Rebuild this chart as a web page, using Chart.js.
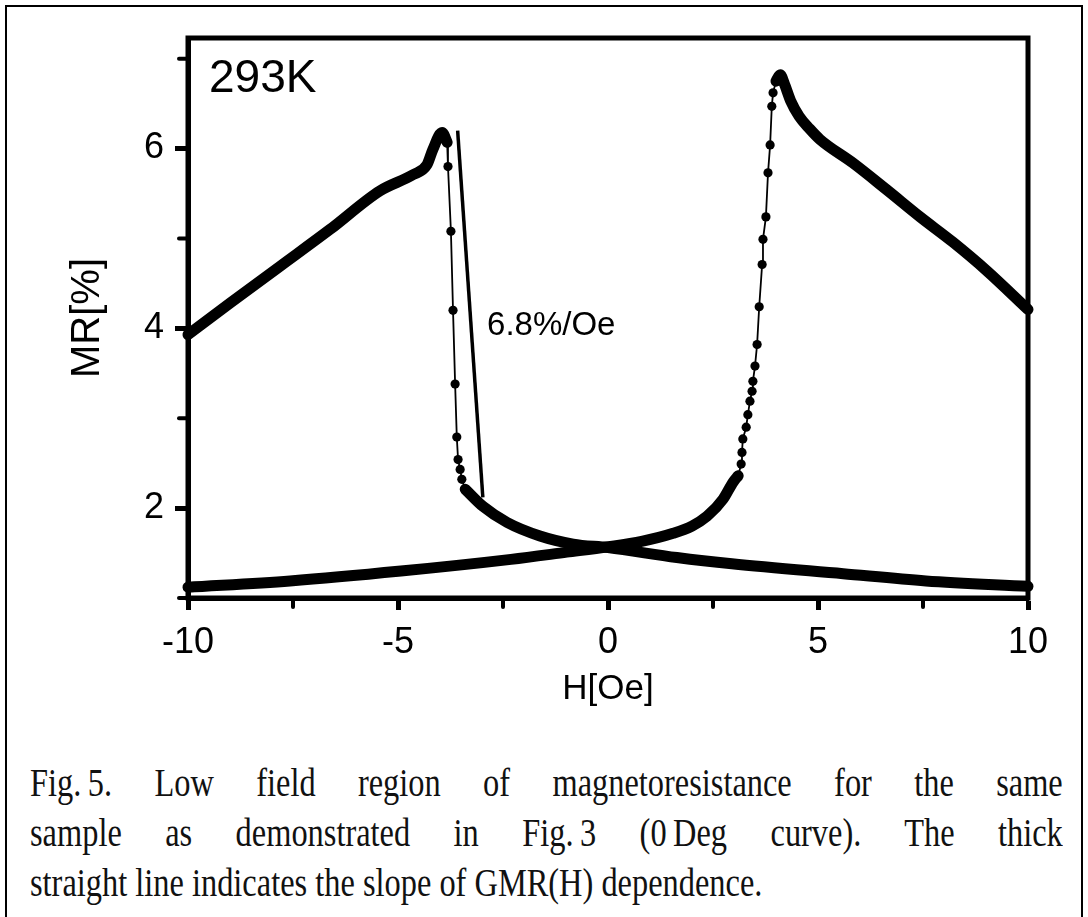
<!DOCTYPE html>
<html>
<head>
<meta charset="utf-8">
<title>MR vs H, 293K</title>
<script src="https://cdn.jsdelivr.net/npm/chart.js@4.4.1/dist/chart.umd.min.js"></script>
<style>
  html, body { margin: 0; padding: 0; background: #fff; }
  body { width: 1088px; height: 917px; position: relative; overflow: hidden; }
  #frame { position: absolute; left: 5px; top: 5px; width: 1078px; height: 940px;
           border: 2px solid #000; box-sizing: border-box; }
  #plot { position: absolute; left: 0; top: 0; }
  #caption { position: absolute; left: 30px; top: 758px; width: 1033px;
             font-family: "Liberation Serif", "Times New Roman", serif; color: #111; }
  .ln { height: 50px; line-height: 50px; font-size: 40px; width: 1275px;
        transform: scaleX(0.81); transform-origin: left center;
        text-align: justify; text-align-last: justify; }
  .ln.last { text-align: left; text-align-last: left; }
</style>
</head>
<body>
<div id="frame"></div>
<canvas id="plot" width="1088" height="720"></canvas>
<div id="caption">
  <div class="ln">Fig.&#8201;5. Low field region of magnetoresistance for the same</div>
  <div class="ln">sample as demonstrated in Fig.&#8201;3 (0&#8201;Deg curve). The thick</div>
  <div class="ln last">straight line indicates the slope of GMR(H) dependence.</div>
</div>
<script>
// Axis ticks
const fieldTicks = [-10, -5, 0, 5, 10];
const fieldMinorTicks = [-7.5, -2.5, 2.5, 7.5];
const mrTicks = [2, 4, 6];
const mrMinorTicks = [1, 3, 5, 7];

// Sweep 1: high-MR branch at negative field up to the switching peak
const sweep1PeakH  = [-10, -9.0, -7.81, -6.62, -5.43, -4.64, -4.31, -4.17, -3.95, -3.83];
const sweep1PeakMR = [3.93, 4.28, 4.69, 5.10, 5.53, 5.71, 5.82, 5.99, 6.18, 6.07];
// Sweep 1: sparse points across the switching field
const sweep1JumpH  = [-3.83, -3.81, -3.74, -3.69, -3.64, -3.60, -3.57, -3.52, -3.48, -3.40];
const sweep1JumpMR = [6.07, 5.80, 5.08, 4.20, 3.38, 2.79, 2.54, 2.43, 2.32, 2.21];
// Sweep 1: low-MR tail through zero field to +10 Oe
const sweep1TailH  = [-3.40, -2.98, -2.40, -1.62, -0.83, 0, 1.64, 2.95, 5.60, 7.57, 10];
const sweep1TailMR = [2.21, 2.02, 1.84, 1.69, 1.60, 1.56, 1.45, 1.38, 1.27, 1.19, 1.13];

// Sweep 2: low-MR branch from -10 Oe rising towards the switching field
const sweep2BaseH  = [-10, -7.57, -4.93, -2.31, -0.98, 0, 0.80, 1.55, 2.00, 2.36, 2.74, 2.98, 3.10];
const sweep2BaseMR = [1.12, 1.19, 1.30, 1.43, 1.51, 1.57, 1.63, 1.72, 1.80, 1.91, 2.10, 2.29, 2.36];
// Sweep 2: sparse points across the switching field
const sweep2JumpH  = [3.10, 3.17, 3.19, 3.21, 3.29, 3.33, 3.38, 3.43, 3.45, 3.50, 3.55, 3.60,
                      3.67, 3.69, 3.76, 3.81, 3.86, 3.90, 3.93, 4.00];
const sweep2JumpMR = [2.36, 2.49, 2.62, 2.77, 2.90, 3.04, 3.19, 3.30, 3.41, 3.58, 3.82, 4.24,
                      4.71, 4.99, 5.24, 5.73, 6.04, 6.47, 6.62, 6.75];
// Sweep 2: peak and high-field decay
const sweep2DecayH  = [4.00, 4.10, 4.20, 4.35, 4.55, 4.80, 5.05, 5.83, 6.64, 7.43, 8.21, 9.02, 10];
const sweep2DecayMR = [6.75, 6.82, 6.72, 6.53, 6.36, 6.22, 6.10, 5.84, 5.54, 5.24, 4.96, 4.64, 4.21];

// Slope guide: 6.8 %/Oe, drawn from its upper end
const slopePerOe = 6.8;
const slopeStartH = -3.58, slopeStartMR = 6.20, slopeEndH = -2.98;

const toXY = (hs, ms) => hs.map((h, i) => ({ x: h, y: ms[i] }));

const dense = (hs, ms) => ({
  data: toXY(hs, ms), borderColor: '#000', borderWidth: 11, pointRadius: 0,
  cubicInterpolationMode: 'monotone', borderCapStyle: 'round', borderJoinStyle: 'round',
  clip: false
});
const sparse = (hs, ms) => ({
  data: toXY(hs, ms), borderColor: '#000', borderWidth: 1.8, pointRadius: 4.6,
  pointBackgroundColor: '#000', pointBorderWidth: 0, clip: false
});

// MR falls as H increases along the guide
const slopeLine = {
  data: [
    { x: slopeStartH, y: slopeStartMR },
    { x: slopeEndH, y: slopeStartMR - slopePerOe * (slopeEndH - slopeStartH) }
  ],
  borderColor: '#000', borderWidth: 3.5, pointRadius: 0
};

const FONT = '"Liberation Sans", Arial, sans-serif';

const frameAndMarks = {
  id: 'frameAndMarks',
  beforeDatasetsDraw(chart) {
    const { ctx, chartArea: a, scales: { x, y } } = chart;
    ctx.save();
    ctx.strokeStyle = '#000';
    ctx.lineWidth = 5;
    ctx.strokeRect(a.left, a.top, a.right - a.left, a.bottom - a.top);
    ctx.lineCap = 'round';
    ctx.lineWidth = 4;
    fieldMinorTicks.forEach(v => {
      const px = x.getPixelForValue(v);
      ctx.beginPath(); ctx.moveTo(px, a.bottom); ctx.lineTo(px, a.bottom + 9); ctx.stroke();
    });
    mrMinorTicks.forEach(v => {
      const py = y.getPixelForValue(v);
      ctx.beginPath(); ctx.moveTo(a.left - 9, py); ctx.lineTo(a.left, py); ctx.stroke();
    });
    ctx.restore();
  },
  afterDatasetsDraw(chart) {
    const { ctx, scales: { x, y } } = chart;
    ctx.save();
    ctx.fillStyle = '#000';
    ctx.textBaseline = 'middle';
    ctx.textAlign = 'left';
    ctx.font = '46px ' + FONT;
    ctx.fillText('293K', x.getPixelForValue(-9.5), y.getPixelForValue(6.77));
    ctx.font = '33px ' + FONT;
    ctx.fillText('6.8%/Oe', x.getPixelForValue(-2.88), y.getPixelForValue(4.03));
    ctx.restore();
  }
};

new Chart(document.getElementById('plot'), {
  type: 'line',
  data: {
    datasets: [
      dense(sweep1PeakH, sweep1PeakMR),
      sparse(sweep1JumpH, sweep1JumpMR),
      dense(sweep1TailH, sweep1TailMR),
      dense(sweep2BaseH, sweep2BaseMR),
      sparse(sweep2JumpH, sweep2JumpMR),
      dense(sweep2DecayH, sweep2DecayMR),
      slopeLine
    ]
  },
  options: {
    responsive: false,
    animation: false,
    events: [],
    layout: { padding: { left: 0, top: 38, right: 60, bottom: 0 } },
    plugins: { legend: { display: false }, tooltip: { enabled: false } },
    scales: {
      x: {
        type: 'linear', min: -10, max: 10,
        afterBuildTicks: s => { s.ticks = fieldTicks.map(v => ({ value: v })); },
        afterFit: s => { s.height = 122; },
        grid: { drawOnChartArea: false, drawTicks: true, tickLength: 12, tickWidth: 5, tickColor: '#000' },
        border: { display: true, color: '#000', width: 5 },
        ticks: { color: '#000', font: { family: FONT, size: 36 }, padding: 11, maxRotation: 0 },
        title: { display: true, text: 'H[Oe]', color: '#000', font: { family: FONT, size: 35 },
                 padding: { top: 10, bottom: 10 } }
      },
      y: {
        type: 'linear', min: 1, max: 7.23,
        afterBuildTicks: s => { s.ticks = mrTicks.map(v => ({ value: v })); },
        afterFit: s => { s.width = 188; },
        grid: { drawOnChartArea: false, drawTicks: true, tickLength: 13, tickWidth: 5, tickColor: '#000' },
        border: { display: true, color: '#000', width: 5 },
        ticks: { color: '#000', font: { family: FONT, size: 36 }, padding: 11 },
        title: { display: true, text: 'MR[%]', color: '#000', font: { family: FONT, size: 40 },
                 padding: { top: 64, bottom: 0 } }
      }
    }
  },
  plugins: [frameAndMarks]
});
</script>
</body>
</html>
